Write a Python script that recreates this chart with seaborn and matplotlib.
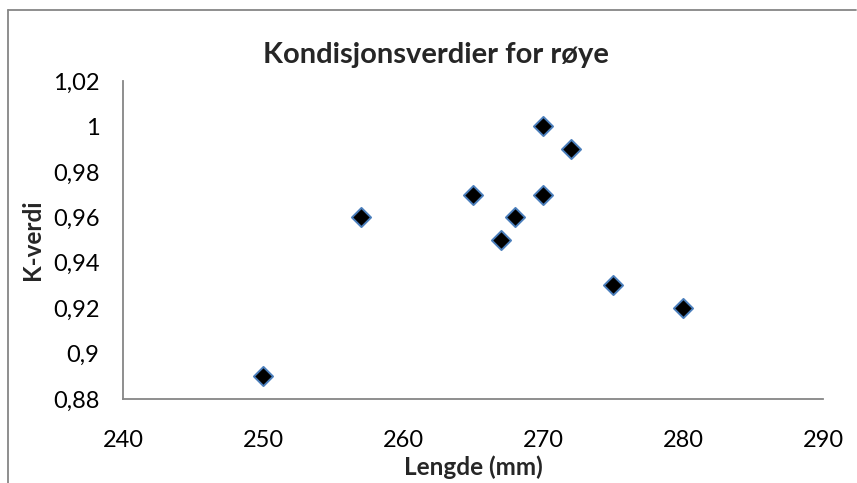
import matplotlib
matplotlib.use("Agg")
import matplotlib.pyplot as plt
import seaborn as sns
import pandas as pd
from matplotlib.ticker import FuncFormatter

lengde = [250, 257, 265, 267, 268, 270, 270, 272, 275, 280]
k_verdi = [0.89, 0.96, 0.97, 0.95, 0.96, 1.00, 0.97, 0.99, 0.93, 0.92]
x_ticks = [240, 250, 260, 270, 280, 290]
y_ticks = [0.88, 0.90, 0.92, 0.94, 0.96, 0.98, 1.00, 1.02]

df = pd.DataFrame({"Lengde": lengde, "K": k_verdi})

sns.set_style("white")
plt.rcParams['font.family'] = ['Lato', 'DejaVu Sans']

fig = plt.figure(figsize=(8.57, 4.83), dpi=100)
ax = fig.add_axes([123/857, 1-399/483, 700/857, 318/483])

sns.scatterplot(data=df, x="Lengde", y="K", marker="D", s=95,
                color="black", edgecolor="#4a7ebb", linewidth=1.4, ax=ax, zorder=3)

ax.set_xlim(240, 290)
ax.set_ylim(0.88, 1.02)
ax.set_xticks(x_ticks)
ax.set_yticks(y_ticks)

def fmt(v, pos):
    s = f"{v:.2f}".rstrip("0").rstrip(".")
    return s.replace(".", ",")
ax.yaxis.set_major_formatter(FuncFormatter(fmt))
ax.xaxis.set_major_formatter(FuncFormatter(lambda v, p: f"{int(round(v))}"))

ax.tick_params(axis="both", length=0, labelsize=17, colors="black")
ax.tick_params(axis="y", pad=17)
ax.tick_params(axis="x", pad=22)
for side in ["top", "right"]:
    ax.spines[side].set_visible(False)
for side in ["left", "bottom"]:
    ax.spines[side].set_color("#868686")
    ax.spines[side].set_linewidth(1.3)

ax.set_xlabel("")
ax.set_ylabel("")
fig.text(473/857, 1-467/483, "Lengde (mm)", ha="center", va="center",
         fontsize=17.5, fontweight="bold")
fig.text(33/857, 1-240/483, "K-verdi", ha="center", va="center",
         fontsize=17.5, fontweight="bold", rotation=90)
fig.text(436/857, 1-55/483, "Kondisjonsverdier for røye", ha="center", va="center",
         fontsize=21, fontweight="bold")

# outer chart border (top and left visible)
fig.add_artist(plt.Line2D([8/857, 856/857], [1-10/483, 1-10/483], color="#868686",
                          linewidth=1.3, transform=fig.transFigure))
fig.add_artist(plt.Line2D([8/857, 8/857], [0, 1-10/483], color="#868686",
                          linewidth=1.3, transform=fig.transFigure))

fig.savefig("out.png", dpi=100)
